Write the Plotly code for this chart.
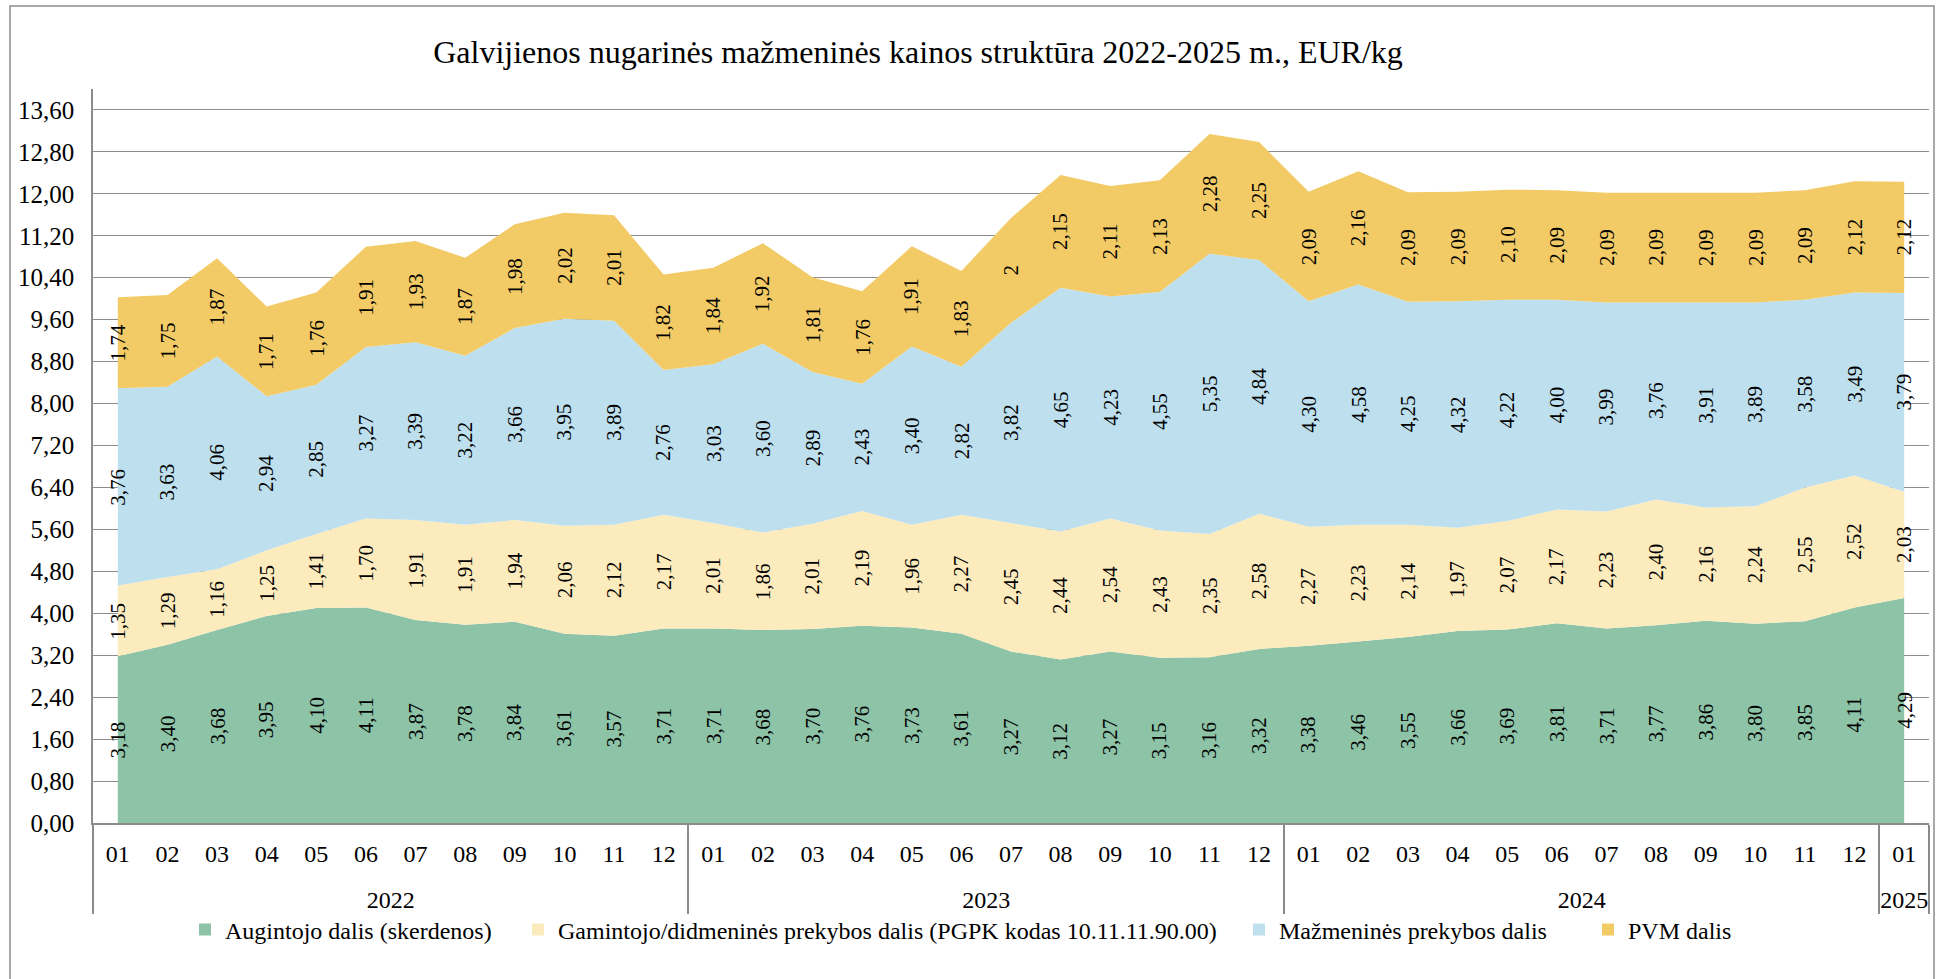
import plotly.graph_objects as go

# ---- data ----
years = ["2022"] * 12 + ["2023"] * 12 + ["2024"] * 12 + ["2025"]
months = ["01", "02", "03", "04", "05", "06", "07", "08", "09", "10", "11", "12"] * 3 + ["01"]

augintojo = [3.18, 3.40, 3.68, 3.95, 4.10, 4.11, 3.87, 3.78, 3.84, 3.61, 3.57, 3.71,
             3.71, 3.68, 3.70, 3.76, 3.73, 3.61, 3.27, 3.12, 3.27, 3.15, 3.16, 3.32,
             3.38, 3.46, 3.55, 3.66, 3.69, 3.81, 3.71, 3.77, 3.86, 3.80, 3.85, 4.11,
             4.29]
gamintojo = [1.35, 1.29, 1.16, 1.25, 1.41, 1.70, 1.91, 1.91, 1.94, 2.06, 2.12, 2.17,
             2.01, 1.86, 2.01, 2.19, 1.96, 2.27, 2.45, 2.44, 2.54, 2.43, 2.35, 2.58,
             2.27, 2.23, 2.14, 1.97, 2.07, 2.17, 2.23, 2.40, 2.16, 2.24, 2.55, 2.52,
             2.03]
mazmenine = [3.76, 3.63, 4.06, 2.94, 2.85, 3.27, 3.39, 3.22, 3.66, 3.95, 3.89, 2.76,
             3.03, 3.60, 2.89, 2.43, 3.40, 2.82, 3.82, 4.65, 4.23, 4.55, 5.35, 4.84,
             4.30, 4.58, 4.25, 4.32, 4.22, 4.00, 3.99, 3.76, 3.91, 3.89, 3.58, 3.49,
             3.79]
pvm = [1.74, 1.75, 1.87, 1.71, 1.76, 1.91, 1.93, 1.87, 1.98, 2.02, 2.01, 1.82,
       1.84, 1.92, 1.81, 1.76, 1.91, 1.83, 2, 2.15, 2.11, 2.13, 2.28, 2.25,
       2.09, 2.16, 2.09, 2.09, 2.10, 2.09, 2.09, 2.09, 2.09, 2.09, 2.09, 2.12,
       2.12]

series_names = ["Augintojo dalis (skerdenos)",
                "Gamintojo/didmeninės prekybos dalis (PGPK kodas 10.11.11.90.00)",
                "Mažmeninės prekybos dalis",
                "PVM dalis"]
series_values = [augintojo, gamintojo, mazmenine, pvm]
series_colors = ["#8DC3A7", "#FCEBBD", "#BDDFEE", "#F3CB66"]

y_ticks = [i * 0.8 for i in range(18)]
y_ticktext = [f"{v:.2f}".replace(".", ",") for v in y_ticks]

title_text = "Galvijienos nugarinės mažmeninės kainos struktūra 2022-2025 m., EUR/kg"

FONT = "Liberation Serif, Times New Roman, serif"
GRID = "#8C8C8C"


def fmt(v):
    # integers were entered without decimals in the source (shown as e.g. "2")
    if isinstance(v, int):
        return str(v)
    return f"{v:.2f}".replace(".", ",")


# plot area in pixels
W, H = 1952, 979
L, R, T, B = 93, 1929, 89, 823
pw, ph = R - L, B - T


def px2paper_x(px):
    return (px - L) / pw


def px2paper_y(py):
    return (B - py) / ph


# month labels get an invisible tiny second line so the year row sits lower
spacer = "<br><span style='font-size:1px'>\u00a0</span>"
month_labels = [m + spacer for m in months]

fig = go.Figure()
legend_ids = ["legend", "legend2", "legend3", "legend4"]
for name, vals, col, lg in zip(series_names, series_values, series_colors, legend_ids):
    fig.add_trace(go.Scatter(
        x=[years, month_labels], y=vals, name=name, mode="none",
        stackgroup="one", fill="tonexty", fillcolor=col,
        hoverinfo="skip", showlegend=False,
    ))
    # legend entry with a square swatch
    fig.add_trace(go.Scatter(
        x=[None], y=[None], name=name, mode="markers",
        marker=dict(symbol="square", size=12, color=col),
        showlegend=True, legend=lg, hoverinfo="skip",
    ))

# data labels (rotated) placed at middle of each band
annotations = []
n = len(months)
base = [0.0] * n
for vals in series_values:
    for i in range(n):
        mid = base[i] + vals[i] / 2
        annotations.append(dict(
            x=i, y=mid, xref="x2", yref="y", text=fmt(vals[i]),
            showarrow=False, textangle=-90,
            font=dict(family=FONT, size=21, color="#000000"),
        ))
    base = [b + v for b, v in zip(base, vals)]

shapes = [dict(type="rect", xref="paper", yref="paper",
               x0=px2paper_x(10), x1=px2paper_x(1934),
               y0=px2paper_y(990), y1=px2paper_y(6),
               line=dict(color="#8C8C8C", width=1.5), fillcolor="rgba(0,0,0,0)",
               layer="below")]

legend_font = dict(family=FONT, size=24, color="#000000")
legend_left_px = [185, 518, 1239, 1588]
legend_cfg = {}
for lg, lpx in zip(legend_ids, legend_left_px):
    legend_cfg[lg] = dict(orientation="h", x=px2paper_x(lpx), xanchor="left",
                          y=px2paper_y(930), yanchor="middle", font=legend_font,
                          bgcolor="rgba(0,0,0,0)", borderwidth=0)

fig.update_layout(
    width=W, height=H,
    margin=dict(l=L, r=W - R, t=T, b=H - B),
    paper_bgcolor="white", plot_bgcolor="white",
    font=dict(family=FONT, color="#000000"),
    title=dict(text=title_text, xref="container", yref="container",
               x=918 / W, y=1 - 52 / H, xanchor="center", yanchor="middle",
               font=dict(family=FONT, size=32, color="#000000")),
    xaxis=dict(
        type="multicategory", range=[-0.5, n - 0.5],
        showline=True, linecolor=GRID, linewidth=1.5,
        showgrid=False, ticks="", ticklabelstandoff=8,
        showdividers=True, dividercolor=GRID, dividerwidth=1.5,
        tickfont=dict(family=FONT, size=24, color="#000000"),
    ),
    xaxis2=dict(overlaying="x", range=[-0.5, n - 0.5], visible=False,
                anchor="y", showgrid=False),
    yaxis=dict(
        range=[0, 14.0], tickmode="array", tickvals=y_ticks, ticktext=y_ticktext,
        showline=True, linecolor=GRID, linewidth=1.5,
        showgrid=True, gridcolor=GRID, gridwidth=1.3,
        zeroline=False, ticks="", ticklabelstandoff=12,
        tickfont=dict(family=FONT, size=25, color="#000000"),
    ),
    annotations=annotations,
    shapes=shapes,
    showlegend=True,
    **legend_cfg,
)

fig.write_html("out.html", config={"displayModeBar": False},
               post_script="document.body.style.margin='0px';")
